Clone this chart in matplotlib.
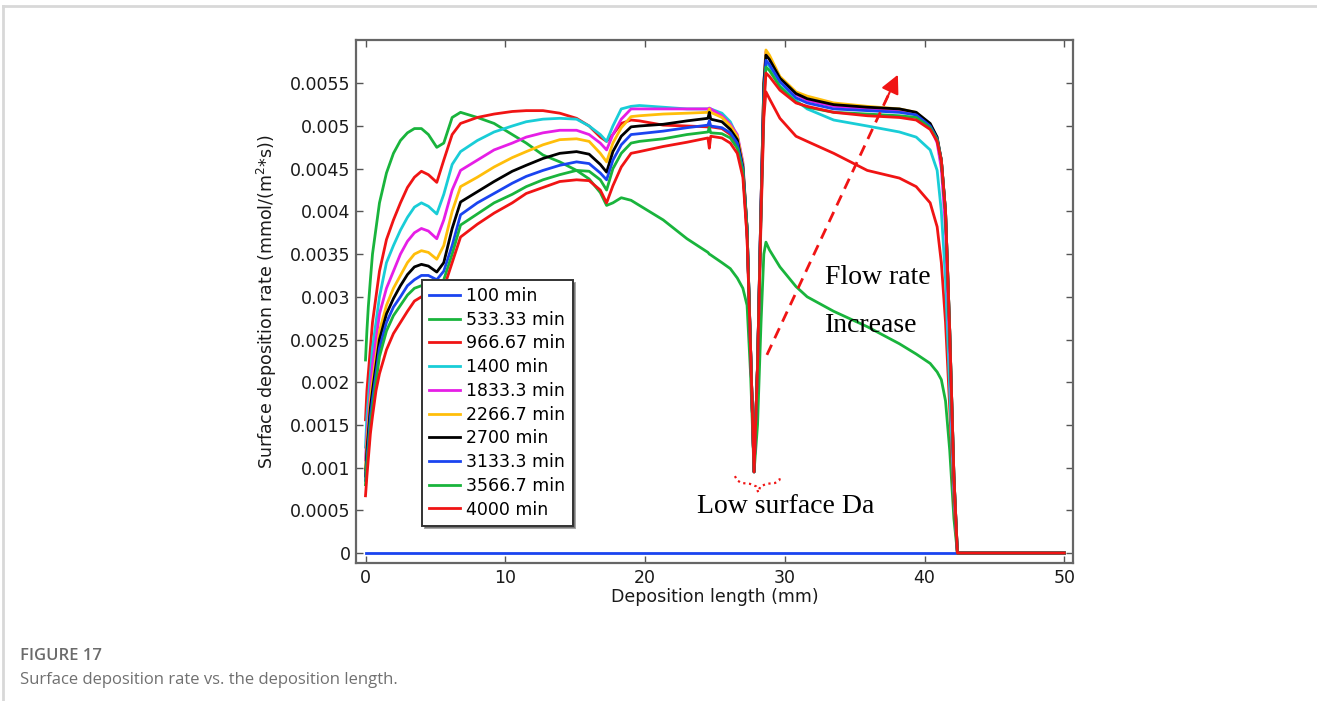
import matplotlib
matplotlib.use("Agg")
import matplotlib.pyplot as plt
from matplotlib.lines import Line2D

# deposition length (mm), shared sampling positions
x_mm = [0, 0.1, 0.2, 0.35, 0.5, 0.75, 1, 1.5, 2, 2.5, 3, 3.5, 4, 4.5, 5.1, 5.6, 6.2, 6.8, 8, 9.2, 10.5,
        11.5, 12.7, 13.9, 15.1, 16.0, 16.8, 17.25, 17.7, 18.3, 19.0, 19.6, 21.3, 23,
        24.5, 24.6, 24.7, 25.5, 26.1, 26.6, 27.0, 27.3, 27.55, 27.8, 28.05, 28.3, 28.5,
        28.65, 28.9, 29.65, 30.8, 31.6, 33.5, 35.9, 38.2, 39.4, 40.4, 40.9, 41.2, 41.5,
        41.8, 42.1, 42.35, 50]

# surface deposition rate (mmol/(m^2*s)) per time step
r_100 = [0.0] * len(x_mm)
r_533 = [0.00226, 0.0026, 0.00288, 0.0032, 0.0035, 0.0038, 0.0041, 0.00445, 0.00468, 0.00483, 0.00492, 0.00497, 0.00497,
         0.0049, 0.00475, 0.0048, 0.0051, 0.00516, 0.0051, 0.00503, 0.0049, 0.0048, 0.00466,
         0.00458, 0.00448, 0.00438, 0.00422, 0.00407, 0.0041, 0.00416, 0.00413, 0.00407, 0.0039,
         0.00368, 0.00352, 0.0035, 0.00349, 0.0034, 0.00333, 0.00322, 0.0031, 0.0029, 0.0021,
         0.00095, 0.0015, 0.0027, 0.0035, 0.00364, 0.00355, 0.00335, 0.00312, 0.003, 0.00283,
         0.00265, 0.00245, 0.00233, 0.00222, 0.00212, 0.00203, 0.00178, 0.0012, 0.0004, 0.0, 0.0]
r_966 = [0.00156, 0.0019, 0.0021, 0.0024, 0.0027, 0.003, 0.0033, 0.00367, 0.0039, 0.0041, 0.00428, 0.0044, 0.00447,
         0.00443, 0.00434, 0.0046, 0.0049, 0.00503, 0.0051, 0.00514, 0.00517, 0.00518, 0.00518,
         0.00515, 0.00509, 0.005, 0.00487, 0.00482, 0.0049, 0.00503, 0.00507, 0.00506, 0.00501,
         0.005, 0.00499, 0.00497, 0.00499, 0.00497, 0.0049, 0.00478, 0.0045, 0.0037, 0.0024,
         0.00095, 0.0022, 0.0039, 0.0051, 0.0054, 0.00532, 0.00509, 0.00488, 0.00482, 0.00468,
         0.00448, 0.00439, 0.00429, 0.0041, 0.00382, 0.0034, 0.0027, 0.0017, 0.0006, 0.0, 0.0]
r_1400 = [0.00124, 0.0016, 0.0018, 0.0021, 0.0024, 0.0027, 0.003, 0.0034, 0.0036, 0.00378, 0.00393, 0.00405, 0.0041,
          0.00406, 0.00397, 0.0042, 0.00455, 0.0047, 0.00483, 0.00493, 0.005, 0.00505, 0.00508,
          0.00509, 0.00508, 0.005, 0.0049, 0.00482, 0.005, 0.0052, 0.00523, 0.00524, 0.00522,
          0.0052, 0.0052, 0.0052, 0.0052, 0.00515, 0.00505, 0.00488, 0.00455, 0.0038, 0.0024,
          0.00095, 0.0022, 0.004, 0.0053, 0.00574, 0.0057, 0.00547, 0.0053, 0.0052, 0.00507,
          0.005, 0.00493, 0.00487, 0.00472, 0.00448, 0.004, 0.0032, 0.0019, 0.0007, 0.0, 0.0]
r_1833 = [0.00109, 0.0014, 0.0016, 0.0019, 0.0022, 0.0025, 0.0028, 0.0031, 0.0033, 0.0035, 0.00365, 0.00375, 0.0038,
          0.00377, 0.00368, 0.0039, 0.00425, 0.00448, 0.0046, 0.00472, 0.0048, 0.00487, 0.00492,
          0.00495, 0.00495, 0.0049, 0.0048, 0.00472, 0.0049, 0.00508, 0.0052, 0.0052, 0.0052,
          0.0052, 0.0052, 0.00521, 0.0052, 0.00512, 0.00502, 0.0049, 0.00458, 0.0038, 0.0024,
          0.00095, 0.0022, 0.0041, 0.0055, 0.00587, 0.0058, 0.00556, 0.00537, 0.0053, 0.00523,
          0.0052, 0.00518, 0.00514, 0.005, 0.0048, 0.0045, 0.0038, 0.0024, 0.0008, 0.0, 0.0]
r_2266 = [0.00098, 0.0013, 0.0015, 0.0018, 0.002, 0.0023, 0.0026, 0.0029, 0.0031, 0.00325, 0.0034, 0.0035, 0.00354,
          0.00352, 0.00344, 0.0036, 0.004, 0.00429, 0.0044, 0.00452, 0.00463, 0.0047, 0.00478,
          0.00484, 0.00485, 0.00482, 0.00468, 0.00458, 0.0048, 0.00498, 0.00511, 0.00512, 0.00514,
          0.00515, 0.00516, 0.0052, 0.00516, 0.0051, 0.005, 0.00488, 0.00455, 0.0038, 0.0024,
          0.00095, 0.0022, 0.0041, 0.0055, 0.00589, 0.00583, 0.00558, 0.0054, 0.00535, 0.00527,
          0.00523, 0.0052, 0.00516, 0.00502, 0.00485, 0.0046, 0.004, 0.0026, 0.0009, 0.0, 0.0]
r_2700 = [0.0009, 0.0012, 0.0014, 0.0017, 0.0019, 0.0022, 0.0025, 0.0028, 0.00298, 0.00313, 0.00326, 0.00335, 0.00338,
          0.00336, 0.00329, 0.0034, 0.0038, 0.00411, 0.00423, 0.00435, 0.00447, 0.00454, 0.00462,
          0.00468, 0.0047, 0.00467, 0.00455, 0.00446, 0.0047, 0.00488, 0.00499, 0.005, 0.00502,
          0.00506, 0.00509, 0.00516, 0.00508, 0.00505, 0.00496, 0.00484, 0.00452, 0.0038, 0.0024,
          0.00095, 0.0022, 0.0041, 0.0055, 0.00583, 0.00578, 0.00556, 0.00538, 0.00532, 0.00525,
          0.00522, 0.0052, 0.00516, 0.00503, 0.00487, 0.0046, 0.004, 0.0026, 0.0009, 0.0, 0.0]
r_3133 = [0.00085, 0.0011, 0.0013, 0.0016, 0.0018, 0.0021, 0.0024, 0.0027, 0.00288, 0.003, 0.00313, 0.0032, 0.00325,
          0.00325, 0.0032, 0.0033, 0.0036, 0.00396, 0.0041, 0.00421, 0.00433, 0.00441, 0.00448,
          0.00454, 0.00458, 0.00456, 0.00445, 0.00437, 0.0046, 0.00478, 0.0049, 0.00491, 0.00494,
          0.00498, 0.00501, 0.00506, 0.005, 0.00498, 0.00492, 0.0048, 0.0045, 0.0038, 0.0024,
          0.00095, 0.0022, 0.0041, 0.0054, 0.00577, 0.00572, 0.00552, 0.00533, 0.00527, 0.0052,
          0.00518, 0.00516, 0.00513, 0.005, 0.00485, 0.0046, 0.004, 0.0026, 0.0009, 0.0, 0.0]
r_3566 = [0.0008, 0.00105, 0.0012, 0.0015, 0.0017, 0.002, 0.0023, 0.0026, 0.00278, 0.0029, 0.00302, 0.0031, 0.00313,
          0.00314, 0.00312, 0.0032, 0.0035, 0.00384, 0.00397, 0.0041, 0.0042, 0.00429, 0.00437,
          0.00443, 0.00448, 0.00447, 0.00437, 0.00425, 0.0045, 0.00468, 0.0048, 0.00482, 0.00485,
          0.0049, 0.00493, 0.00498, 0.00492, 0.00491, 0.00486, 0.00474, 0.00447, 0.0038, 0.0024,
          0.00095, 0.0022, 0.004, 0.0053, 0.00569, 0.00565, 0.00546, 0.00528, 0.00522, 0.00516,
          0.00514, 0.00512, 0.0051, 0.00498, 0.00484, 0.0046, 0.004, 0.0026, 0.0009, 0.0, 0.0]
r_4000 = [0.00067, 0.0009, 0.0011, 0.0014, 0.0016, 0.0019, 0.0021, 0.00238, 0.00257, 0.0027, 0.00283, 0.00295, 0.003,
          0.00303, 0.00305, 0.0031, 0.0034, 0.0037, 0.00385, 0.00398, 0.0041, 0.00421, 0.00428,
          0.00435, 0.00437, 0.00436, 0.00425, 0.0041, 0.0043, 0.00452, 0.00468, 0.0047, 0.00476,
          0.00481, 0.00486, 0.00474, 0.00488, 0.00486, 0.0048, 0.00468, 0.0044, 0.0037, 0.0024,
          0.00095, 0.0022, 0.004, 0.0052, 0.00562, 0.00558, 0.00542, 0.00527, 0.00523, 0.00516,
          0.00512, 0.0051, 0.00507, 0.00496, 0.00482, 0.0046, 0.004, 0.0026, 0.0009, 0.0, 0.0]

series = [r_100, r_533, r_966, r_1400, r_1833, r_2266, r_2700, r_3133, r_3566, r_4000]
labels = ['100 min', '533.33 min', '966.67 min', '1400 min', '1833.3 min',
          '2266.7 min', '2700 min', '3133.3 min', '3566.7 min', '4000 min']
colors = ['#1a44f0', '#19b43c', '#f01414', '#19cdd7', '#e61ee6',
          '#ffbe0a', '#000000', '#1a44f0', '#19b43c', '#f01414']

x_ticks = [0, 10, 20, 30, 40, 50]
y_ticks = [0, 0.0005, 0.001, 0.0015, 0.002, 0.0025, 0.003, 0.0035, 0.004, 0.0045, 0.005, 0.0055]
y_tick_labels = ['0', '0.0005', '0.001', '0.0015', '0.002', '0.0025', '0.003',
                 '0.0035', '0.004', '0.0045', '0.005', '0.0055']

# annotation geometry
brace_x = [26.43, 26.6, 26.9, 27.5, 27.95, 28.1, 28.25, 28.7, 29.3, 29.6, 29.7]
brace_y = [0.00090, 0.00085, 0.00082, 0.00081, 0.00078, 0.00071, 0.00078, 0.00081, 0.00082, 0.00085, 0.00090]
arrow_start = (28.72, 0.00232)
arrow_tip = (38.09, 0.0056)

fig = plt.figure(figsize=(13.17, 7.01), dpi=100)
ax = fig.add_axes([0.27031, 0.19686, 0.54442, 0.74608])

for ys, lab, c in zip(series, labels, colors):
    ax.plot(x_mm, ys, color=c, lw=2.0, label=lab, solid_joinstyle='round')

ax.set_xlim(-0.68, 50.62)
ax.set_ylim(-0.000117, 0.006007)
ax.set_xticks(x_ticks)
ax.set_yticks(y_ticks)
ax.set_yticklabels(y_tick_labels)
ax.tick_params(direction='in', top=True, right=True, length=5, width=1,
               color='#555555', labelsize=12.5, labelcolor='#1a1a1a', pad=4)
for sp in ax.spines.values():
    sp.set_color('#666666')
    sp.set_linewidth(1.6)

ax.set_xlabel('Deposition length (mm)', fontsize=12.5, color='#1a1a1a', labelpad=1)
ax.set_ylabel('Surface deposition rate (mmol/(m$^2$*s))', fontsize=12.5, color='#1a1a1a', labelpad=8)

leg = ax.legend(loc='upper left', bbox_to_anchor=(0.092, 0.541), borderaxespad=0,
                fontsize=12.5, handlelength=1.8, handletextpad=0.35, labelspacing=0.33,
                borderpad=0.4, fancybox=False, shadow=True, framealpha=1)
leg.get_frame().set_edgecolor('#333333')
leg.get_frame().set_linewidth(1.4)

# dashed arrow
dx = arrow_tip[0] - arrow_start[0]
dy = arrow_tip[1] - arrow_start[1]
ax.plot([arrow_start[0], arrow_start[0] + 0.93 * dx], [arrow_start[1], arrow_start[1] + 0.93 * dy],
        color='#f01414', lw=2, dashes=(4, 2.6))
ax.annotate('', xy=arrow_tip, xytext=(arrow_start[0] + 0.9 * dx, arrow_start[1] + 0.9 * dy),
            arrowprops=dict(arrowstyle='-|>', color='#f01414', lw=1.5, mutation_scale=28,
                            shrinkA=0, shrinkB=0))

# dotted brace under the dip
ax.plot(brace_x, brace_y, color='#f01414', lw=1.6, ls=(0, (1, 1.6)))

serif = 'Liberation Serif'
ax.text(32.87, 0.00323, 'Flow rate', fontsize=20, family=serif, va='center', ha='left')
ax.text(32.87, 0.00266, 'Increase', fontsize=20, family=serif, va='center', ha='left')
ax.text(23.7, 0.00055, 'Low surface Da', fontsize=20, family=serif, va='center', ha='left')

# page border and caption
fig.add_artist(Line2D([3 / 1317, 1], [1 - 6 / 701, 1 - 6 / 701], color='#d8d8d8', lw=2))
fig.add_artist(Line2D([3 / 1317, 3 / 1317], [0, 1 - 6 / 701], color='#d8d8d8', lw=2))
fig.text(20 / 1317, 1 - 656 / 701, 'FIGURE 17', fontsize=12, family='Open Sans',
         fontweight='semibold', color='#6b6b6b', va='center')
fig.text(20 / 1317, 1 - 680 / 701, 'Surface deposition rate vs. the deposition length.',
         fontsize=12, family='Open Sans', color='#707070', va='center')

fig.savefig('out.png', dpi=100)
